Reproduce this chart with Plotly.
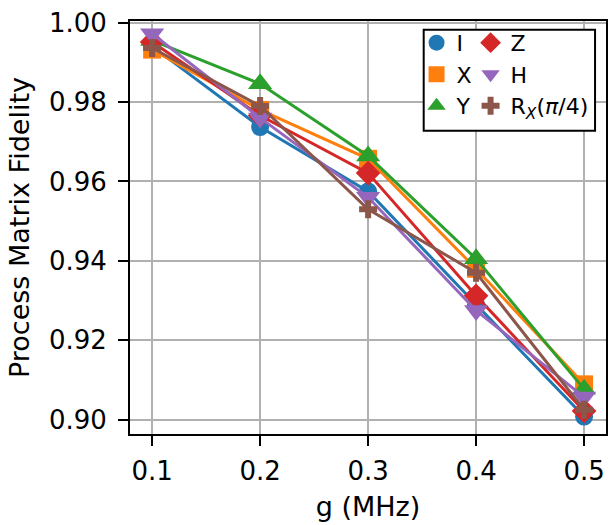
import plotly.graph_objects as go

g_values = [0.1, 0.2, 0.3, 0.4, 0.5]

fid_I = [0.9940, 0.9737, 0.9575, 0.9290, 0.9008]
fid_X = [0.9932, 0.9780, 0.9657, 0.9380, 0.9089]
fid_Y = [0.9955, 0.9846, 0.9664, 0.9405, 0.9077]
fid_Z = [0.9951, 0.9766, 0.9621, 0.9312, 0.9022]
fid_H = [0.9972, 0.9760, 0.9560, 0.9275, 0.9057]
fid_R = [0.9936, 0.9790, 0.9530, 0.9370, 0.9025]

series_names = ["I", "X", "Y", "Z", "H", "R<sub><i>X</i></sub>(<i>π</i>/4)"]
series_values = [fid_I, fid_X, fid_Y, fid_Z, fid_H, fid_R]
colors = ["#1f77b4", "#ff7f0e", "#2ca02c", "#d62728", "#9467bd", "#8c564b"]
symbols = ["circle", "square", "triangle-up", "diamond", "triangle-down", "cross"]
sizes = [18, 18, 21, 19, 21, 15]
legend_ids = ["legend", "legend", "legend", "legend2", "legend2", "legend2"]

y_ticks = [0.90, 0.92, 0.94, 0.96, 0.98, 1.00]
x_ticks = [0.1, 0.2, 0.3, 0.4, 0.5]

FONT = "DejaVu Sans"

fig = go.Figure()
for name, vals, c, s, sz in zip(series_names, series_values, colors, symbols, sizes):
    fig.add_trace(go.Scatter(
        x=g_values, y=vals, name=name, mode="lines+markers",
        line=dict(color=c, width=3),
        marker=dict(symbol=s, size=sz, color=c, line=dict(width=0)),
        showlegend=False,
    ))

# marker-only legend entries (as in the reference legend)
for name, c, s, sz, lg in zip(series_names, colors, symbols, sizes, legend_ids):
    fig.add_trace(go.Scatter(
        x=[None], y=[None], name=name, mode="markers",
        marker=dict(symbol=s, size=sz, color=c, line=dict(width=0)),
        legend=lg, showlegend=True,
    ))

axis_common = dict(
    showline=True, linecolor="black", linewidth=2, mirror=True,
    ticks="outside", ticklen=10, tickwidth=1.5, tickcolor="black",
    showgrid=True, gridcolor="#b0b0b0", gridwidth=1.5,
    zeroline=False,
    tickfont=dict(family=FONT, size=26, color="black"),
)

fig.update_xaxes(
    range=[0.0795, 0.5203], tickvals=x_ticks, tickformat=".1f",
    ticklabelstandoff=3,
    title=dict(text="g (MHz)", font=dict(family=FONT, size=27, color="black"), standoff=12),
    **axis_common,
)
fig.update_yaxes(
    range=[0.8964, 1.0004], tickvals=y_ticks, tickformat=".2f",
    ticklabelstandoff=6,
    title=dict(text="Process Matrix Fidelity", font=dict(family=FONT, size=27, color="black"), standoff=11),
    **axis_common,
)

legend_common = dict(
    yanchor="top", xanchor="left", y=0.998,
    bgcolor="rgba(0,0,0,0)", borderwidth=0,
    font=dict(family=FONT, size=22, color="black"),
    orientation="v", itemsizing="trace",
)

fig.update_layout(
    width=616, height=525,
    margin=dict(l=130, r=8, t=15, b=82),
    plot_bgcolor="white", paper_bgcolor="white",
    font=dict(family=FONT, color="black"),
    legend=dict(x=0.602, **legend_common),
    legend2=dict(x=0.7155, **legend_common),
    shapes=[dict(
        type="rect", xref="paper", yref="paper",
        x0=0.617, x1=0.977, y0=0.734, y1=0.979,
        line=dict(color="black", width=2), fillcolor="white", layer="above",
    )],
)

fig.write_html("out.html", config={"displayModeBar": False},
               post_script="document.body.style.margin='0px';")
